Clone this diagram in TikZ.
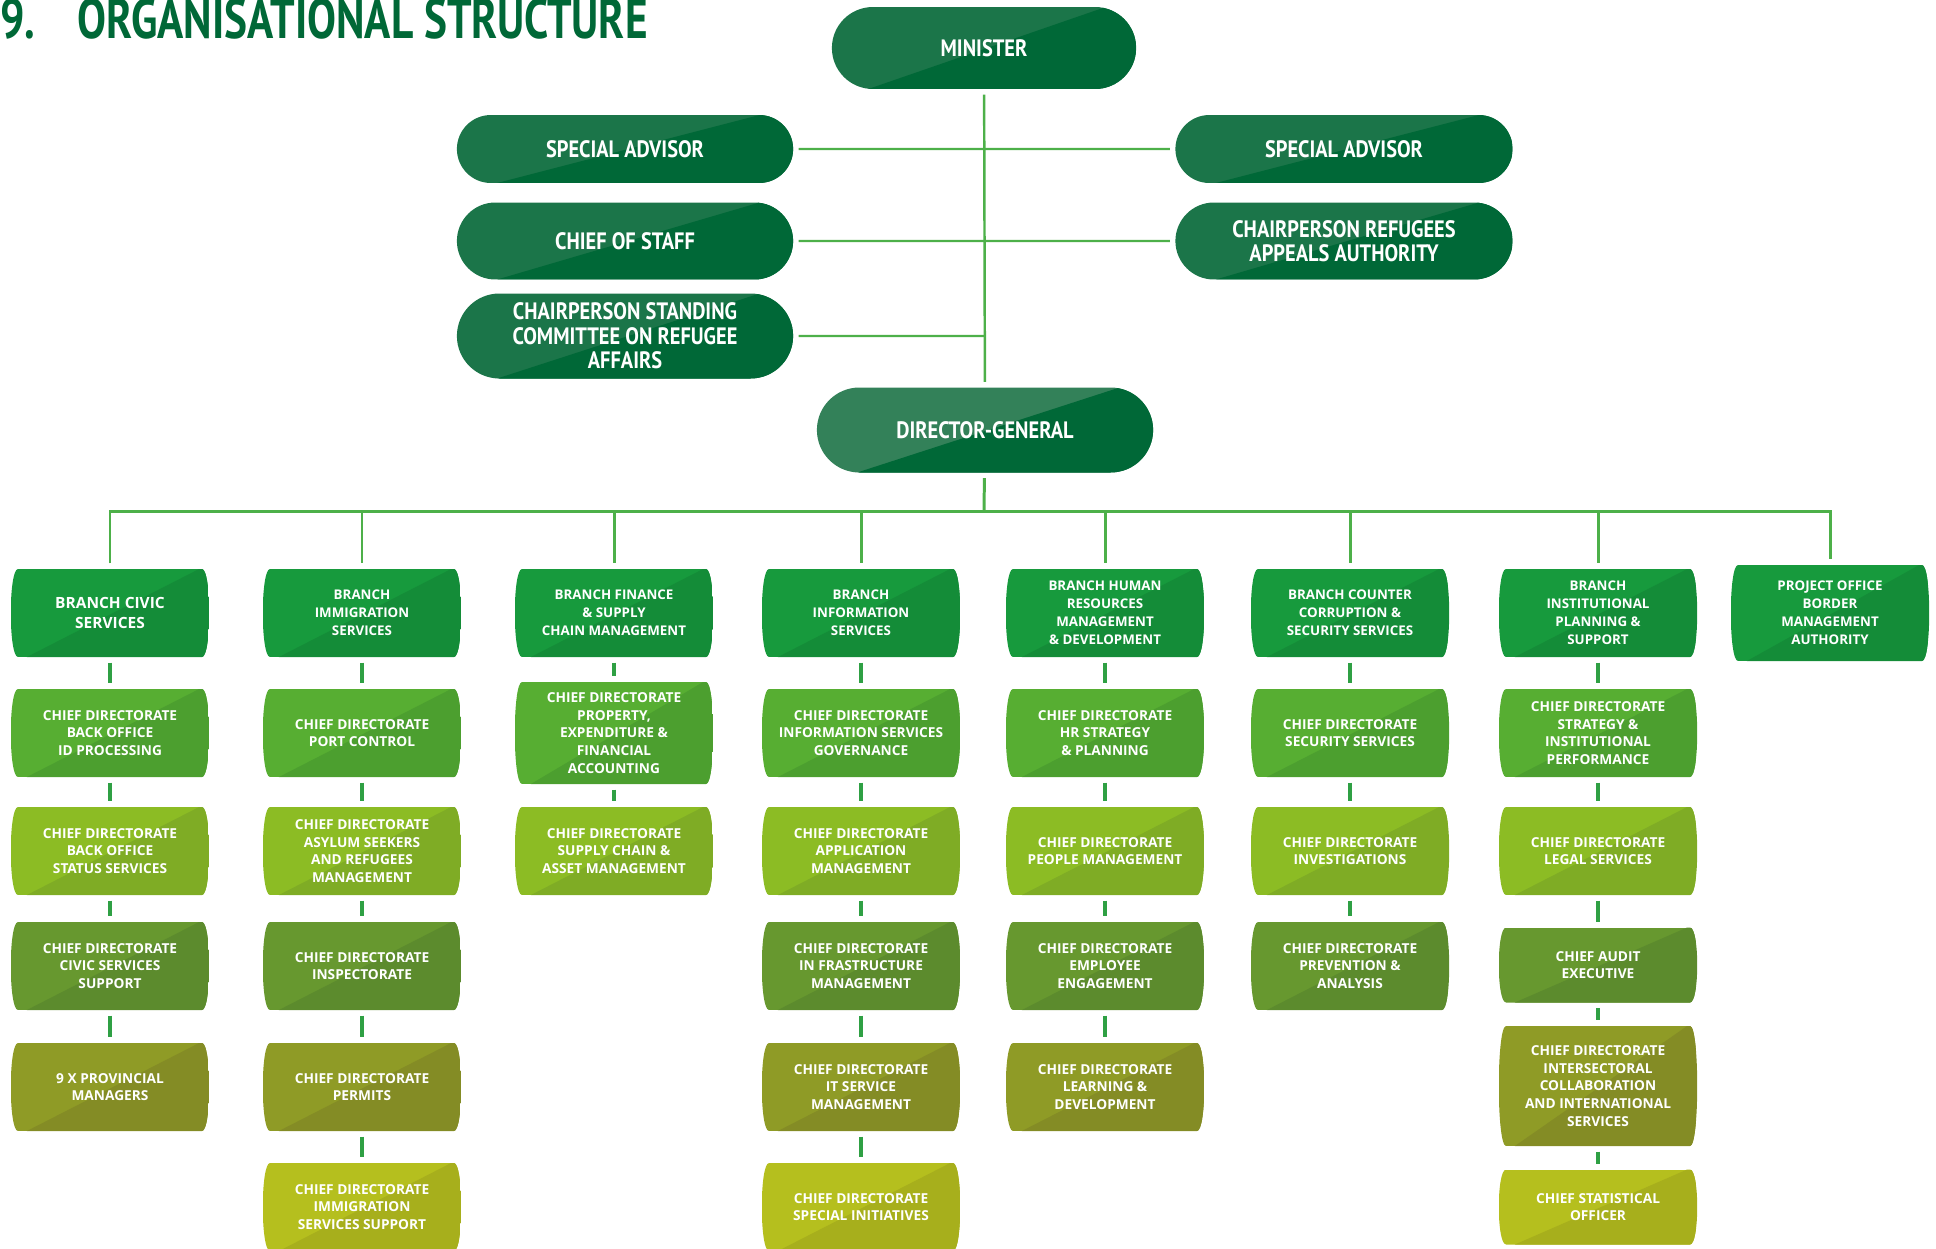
\documentclass[tikz,border=0pt]{standalone}
\usepackage{fontspec}
\usetikzlibrary{shapes.misc,calc}
\newfontfamily\boxfont{Open Sans}
\newfontfamily\topfont{PT Sans}[FakeStretch=0.86]
\newfontfamily\headfont{PT Sans}[FakeStretch=0.77]
\definecolor{titlegreen}{HTML}{006837}
\definecolor{topL}{HTML}{1B7549}
\definecolor{topD}{HTML}{006837}
\definecolor{dgL}{HTML}{338159}
\definecolor{brL}{HTML}{179A3D}
\definecolor{brD}{HTML}{148C38}
\definecolor{r1L}{HTML}{57AE32}
\definecolor{r1D}{HTML}{4C9F2F}
\definecolor{r2L}{HTML}{8CBC24}
\definecolor{r2D}{HTML}{7FAC25}
\definecolor{r3L}{HTML}{67982F}
\definecolor{r3D}{HTML}{5C8B2D}
\definecolor{r4L}{HTML}{8F9B26}
\definecolor{r4D}{HTML}{848C25}
\definecolor{r5L}{HTML}{B5BF1E}
\definecolor{r5D}{HTML}{A7AF1C}
\definecolor{linegreen}{HTML}{4DB049}
\definecolor{stubgreen}{HTML}{2FA044}
\tikzset{
  pill/.style 2 args={rounded rectangle, fill=#1, text=white, align=center,
    font=\topfont\bfseries\fontsize{13.5}{14}\selectfont,
    path picture={\fill[#2] ($(path picture bounding box.south west)!0.12!(path picture bounding box.south east)$)
      -- ($(path picture bounding box.north west)!0.9!(path picture bounding box.north east)$)
      -- (path picture bounding box.north east) -- (path picture bounding box.south east) -- cycle;}},
  barrel/.style 2 args={fill=white, minimum width=3.96cm, minimum height=1.76cm, inner sep=0pt,
    text=white, align=center, font=\boxfont\bfseries\fontsize{7.8}{10}\selectfont,
    path picture={
      \path (path picture bounding box.south west) coordinate (sw)
        (path picture bounding box.south east) coordinate (se)
        (path picture bounding box.north west) coordinate (nw)
        (path picture bounding box.north east) coordinate (ne);
      \clip ([xshift=4pt]nw) -- ([xshift=-4pt]ne) .. controls ([xshift=1.5pt]ne) and ([xshift=1.5pt]se) .. ([xshift=-4pt]se)
        -- ([xshift=4pt]sw) .. controls ([xshift=-1.5pt]sw) and ([xshift=-1.5pt]nw) .. cycle;
      \fill[#1] (sw) rectangle (ne);
      \fill[#2] ($(sw)!0.08!(se)$) -- ($(nw)!0.95!(ne)$) -- (ne) -- (se) -- cycle;}},
  branch/.style={barrel={brL}{brD}, font=\boxfont\bfseries\fontsize{7.6}{10.3}\selectfont},
  r1/.style={barrel={r1L}{r1D}},
  r2/.style={barrel={r2L}{r2D}},
  r3/.style={barrel={r3L}{r3D}},
  r4/.style={barrel={r4L}{r4D}},
  r5/.style={barrel={r5L}{r5D}}
}
\begin{document}
\begin{tikzpicture}[x=0.02cm,y=-0.02cm]
\tikzstyle{link}=[draw=linegreen, line width=1.4pt, shorten <=3pt, shorten >=3pt]
\tikzstyle{bus}=[draw=linegreen, line width=1.7pt]
\tikzstyle{stub}=[draw=stubgreen, line width=2pt, shorten <=3pt, shorten >=3pt]
\useasboundingbox (0,0) rectangle (1936,1248);

\node[anchor=base west, inner sep=0pt, text=titlegreen, font=\headfont\bfseries\fontsize{32}{33}\selectfont]
  (title) at (0,38) {9.\hspace{24pt}ORGANISATIONAL STRUCTURE};

\node[pill={topL}{topD}, minimum width=6.32cm, minimum height=1.64cm] (minister) at (984,48) {MINISTER};
\node[pill={topL}{topD}, minimum width=6.96cm, minimum height=1.36cm] (saL) at (625,149) {SPECIAL ADVISOR};
\node[pill={topL}{topD}, minimum width=6.98cm, minimum height=1.36cm] (saR) at (1344,149) {SPECIAL ADVISOR};
\node[pill={topL}{topD}, minimum width=6.96cm, minimum height=1.54cm] (cos) at (625,241) {CHIEF OF STAFF};
\node[pill={topL}{topD}, minimum width=6.98cm, minimum height=1.54cm] (chairR) at (1344,241) {CHAIRPERSON REFUGEES\\APPEALS AUTHORITY};
\node[pill={topL}{topD}, minimum width=6.96cm, minimum height=1.7cm] (chairS) at (625,336) {CHAIRPERSON STANDING\\COMMITTEE ON REFUGEE\\AFFAIRS};
\node[pill={dgL}{topD}, minimum width=6.96cm, minimum height=1.7cm] (dg) at (985,430) {DIRECTOR-GENERAL};

\draw[link] (saL) -- (saR);
\draw[link] (cos) -- (chairR);
\draw[link, shorten >=0pt] (chairS) -- (chairS -| minister);
\draw[link] (minister) -- (dg);

\node[branch, font=\boxfont\bfseries\fontsize{8.8}{11.8}\selectfont] (b1) at (110,613) {BRANCH CIVIC\\SERVICES};
\node[branch] (b2) at (362,613) {BRANCH\\IMMIGRATION\\SERVICES};
\node[branch] (b3) at (614,613) {BRANCH FINANCE\\\& SUPPLY\\CHAIN MANAGEMENT};
\node[branch] (b4) at (861,613) {BRANCH\\INFORMATION\\SERVICES};
\node[branch] (b5) at (1105,613) {BRANCH HUMAN\\RESOURCES\\MANAGEMENT\\\& DEVELOPMENT};
\node[branch] (b6) at (1350,613) {BRANCH COUNTER\\CORRUPTION \&\\SECURITY SERVICES};
\node[branch] (b7) at (1598,613) {BRANCH\\INSTITUTIONAL\\PLANNING \&\\SUPPORT};
\node[branch, minimum height=1.92cm] (b8) at (1830,613) {PROJECT OFFICE\\BORDER\\MANAGEMENT\\AUTHORITY};

\node[r1] (c11) at (110,733) {CHIEF DIRECTORATE\\BACK OFFICE\\ID PROCESSING};
\node[r2] (c12) at (110,851) {CHIEF DIRECTORATE\\BACK OFFICE\\STATUS SERVICES};
\node[r3] (c13) at (110,966) {CHIEF DIRECTORATE\\CIVIC SERVICES\\SUPPORT};
\node[r4] (c14) at (110,1087) {9 X PROVINCIAL\\MANAGERS};

\node[r1] (c21) at (362,733) {CHIEF DIRECTORATE\\PORT CONTROL};
\node[r2] (c22) at (362,851) {CHIEF DIRECTORATE\\ASYLUM SEEKERS\\AND REFUGEES\\MANAGEMENT};
\node[r3] (c23) at (362,966) {CHIEF DIRECTORATE\\INSPECTORATE};
\node[r4] (c24) at (362,1087) {CHIEF DIRECTORATE\\PERMITS};
\node[r5] (c25) at (362,1207) {CHIEF DIRECTORATE\\IMMIGRATION\\SERVICES SUPPORT};

\node[r1, minimum height=2.04cm] (c31) at (614,733) {CHIEF DIRECTORATE\\PROPERTY,\\EXPENDITURE \&\\FINANCIAL\\ACCOUNTING};
\node[r2] (c32) at (614,851) {CHIEF DIRECTORATE\\SUPPLY CHAIN \&\\ASSET MANAGEMENT};

\node[r1] (c41) at (861,733) {CHIEF DIRECTORATE\\INFORMATION SERVICES\\GOVERNANCE};
\node[r2] (c42) at (861,851) {CHIEF DIRECTORATE\\APPLICATION\\MANAGEMENT};
\node[r3] (c43) at (861,966) {CHIEF DIRECTORATE\\IN FRASTRUCTURE\\MANAGEMENT};
\node[r4] (c44) at (861,1087) {CHIEF DIRECTORATE\\IT SERVICE\\MANAGEMENT};
\node[r5] (c45) at (861,1207) {CHIEF DIRECTORATE\\SPECIAL INITIATIVES};

\node[r1] (c51) at (1105,733) {CHIEF DIRECTORATE\\HR STRATEGY\\\& PLANNING};
\node[r2] (c52) at (1105,851) {CHIEF DIRECTORATE\\PEOPLE MANAGEMENT};
\node[r3] (c53) at (1105,966) {CHIEF DIRECTORATE\\EMPLOYEE\\ENGAGEMENT};
\node[r4] (c54) at (1105,1087) {CHIEF DIRECTORATE\\LEARNING \&\\DEVELOPMENT};

\node[r1] (c61) at (1350,733) {CHIEF DIRECTORATE\\SECURITY SERVICES};
\node[r2] (c62) at (1350,851) {CHIEF DIRECTORATE\\INVESTIGATIONS};
\node[r3] (c63) at (1350,966) {CHIEF DIRECTORATE\\PREVENTION \&\\ANALYSIS};

\node[r1] (c71) at (1598,733) {CHIEF DIRECTORATE\\STRATEGY \&\\INSTITUTIONAL\\PERFORMANCE};
\node[r2] (c72) at (1598,851) {CHIEF DIRECTORATE\\LEGAL SERVICES};
\node[r3, minimum height=1.5cm] (c73) at (1598,965) {CHIEF AUDIT\\EXECUTIVE};
\node[r4, minimum height=2.4cm] (c74) at (1598,1086) {CHIEF DIRECTORATE\\INTERSECTORAL\\COLLABORATION\\AND INTERNATIONAL\\SERVICES};
\node[r5, minimum height=1.5cm] (c75) at (1598,1207) {CHIEF STATISTICAL\\OFFICER};

\coordinate (bus) at (984,511);
\draw[bus, shorten <=3pt] (dg) -- (bus);
\draw[bus, shorten <=3pt, shorten >=3pt] (b1) -- (b1 |- bus) -- (b8 |- bus) -- (b8);
\foreach \b in {b2,b3,b4,b5,b6,b7}
  \draw[bus, shorten >=3pt] (\b |- bus) -- (\b);

\foreach \a/\b in {b1/c11,c11/c12,c12/c13,c13/c14,
    b2/c21,c21/c22,c22/c23,c23/c24,c24/c25,
    b3/c31,c31/c32,
    b4/c41,c41/c42,c42/c43,c43/c44,c44/c45,
    b5/c51,c51/c52,c52/c53,c53/c54,
    b6/c61,c61/c62,c62/c63,
    b7/c71,c71/c72,c72/c73,c73/c74,c74/c75}
  \draw[stub] (\a) -- (\b);
\end{tikzpicture}
\end{document}
